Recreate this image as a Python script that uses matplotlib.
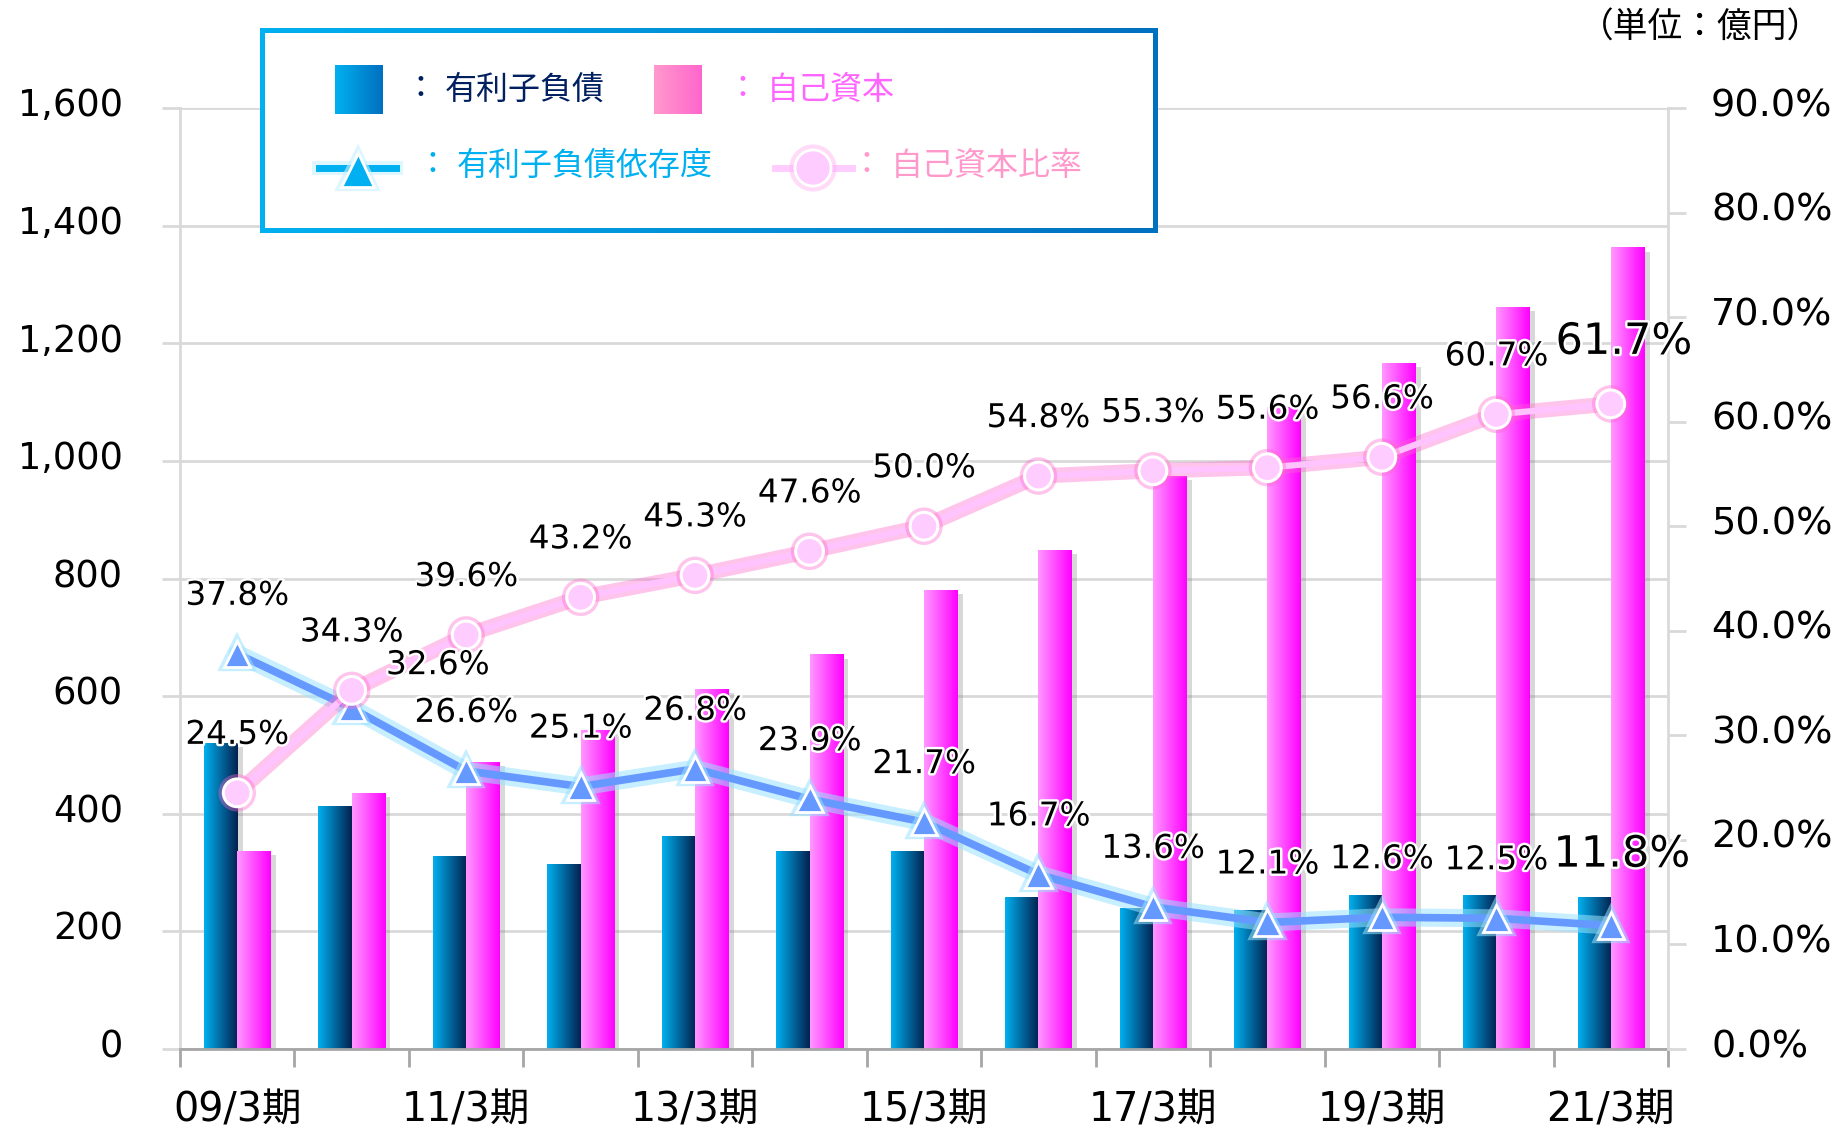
import numpy as np
import matplotlib
matplotlib.use('Agg')
import matplotlib.pyplot as plt
import matplotlib.patheffects as pe
import matplotlib.transforms as mtransforms
from matplotlib.colors import LinearSegmentedColormap
from matplotlib.patches import Rectangle

plt.rcParams['font.family'] = ['DejaVu Sans', 'Noto Sans CJK JP']

# data
periods = ['09/3期', '10/3期', '11/3期', '12/3期', '13/3期', '14/3期', '15/3期',
           '16/3期', '17/3期', '18/3期', '19/3期', '20/3期', '21/3期']
debt = [521, 413, 329, 315, 363, 337, 337, 258, 239, 237, 261, 261, 259]          # 有利子負債 (億円)
equity = [337, 435, 488, 542, 612, 671, 781, 848, 974, 1091, 1166, 1262, 1363]    # 自己資本 (億円)
debt_ratio = [37.8, 32.6, 26.6, 25.1, 26.8, 23.9, 21.7, 16.7, 13.6, 12.1, 12.6, 12.5, 11.8]    # 有利子負債依存度 (%)
equity_ratio = [24.5, 34.3, 39.6, 43.2, 45.3, 47.6, 50.0, 54.8, 55.3, 55.6, 56.6, 60.7, 61.7]  # 自己資本比率 (%)
left_ticks = [0, 200, 400, 600, 800, 1000, 1200, 1400, 1600]
right_ticks = [0, 10, 20, 30, 40, 50, 60, 70, 80, 90]

W, H = 1847, 1130
fig = plt.figure(figsize=(W / 100, H / 100), dpi=100)
ax = fig.add_axes([180 / W, 1 - 1049 / H, (1668 - 180) / W, (1049 - 108) / H])
ax2 = ax.twinx()

BLUE_L, BLUE_R = '#00B0F0', '#03214F'
PINK_L, PINK_R = '#FF99FF', '#FF00FF'


def gradient_fill(axis, patch, c_left, c_right):
    # paint a left-to-right gradient inside a bar patch
    cmap = LinearSegmentedColormap.from_list('g', [c_left, c_right])
    x, y = patch.get_x(), patch.get_y()
    w, h = patch.get_width(), patch.get_height()
    im = axis.imshow(np.linspace(0, 1, 256).reshape(1, -1), cmap=cmap,
                     extent=[x, x + w, y, y + h], aspect='auto', origin='lower',
                     zorder=patch.get_zorder() + 0.01, interpolation='bilinear')
    im.set_clip_path(patch)


x = np.arange(len(periods))
bw = 0.29
shadow = [pe.SimplePatchShadow(offset=(4, -3), shadow_rgbFace='#808080', alpha=0.3), pe.Normal()]
bars_d = ax.bar(x - bw / 2, debt, bw, color=BLUE_L, zorder=2, path_effects=shadow)
bars_e = ax.bar(x + bw / 2, equity, bw, color=PINK_L, zorder=2, path_effects=shadow)
for b in bars_d:
    gradient_fill(ax, b, BLUE_L, BLUE_R)
for b in bars_e:
    gradient_fill(ax, b, PINK_L, PINK_R)

ax.set_xlim(-0.5, len(periods) - 0.5)
ax.set_ylim(0, 1600)
ax.set_yticks(left_ticks, labels=[f'{v:,}' for v in left_ticks])
ax.set_axisbelow(True)
ax.yaxis.grid(True, color='#D9D9D9', linewidth=2)
ax.tick_params(axis='y', length=13, width=2, color='#D9D9D9', labelsize=26.5, pad=28)

ax.set_xticks(np.arange(-0.5, len(periods), 1), labels=[])
ax.set_xticks(x[::2], labels=periods[::2], minor=True)
ax.tick_params(axis='x', which='major', length=13, width=2, color='#A6A6A6')
ax.tick_params(axis='x', which='minor', length=0, labelsize=28.5, pad=30)

ax.spines['top'].set_visible(False)
ax.spines['left'].set_color('#D9D9D9')
ax.spines['left'].set_linewidth(2)
ax.spines['bottom'].set_color('#A6A6A6')
ax.spines['bottom'].set_linewidth(2)
ax.spines['right'].set_visible(False)

# ratio lines on the right axis
ax2.set_ylim(0, 90)
ax2.set_yticks(right_ticks, labels=[f'{v:.1f}%' for v in right_ticks])
ax2.tick_params(axis='y', length=13, width=2, color='#D9D9D9', labelsize=27.5, pad=18)
for s in ['top', 'left', 'bottom']:
    ax2.spines[s].set_visible(False)
ax2.spines['right'].set_color('#D9D9D9')
ax2.spines['right'].set_linewidth(2)

# the y tick labels sit a little above their gridlines in the original
lift = mtransforms.ScaledTranslation(0, 6 / 100, fig.dpi_scale_trans)
for lab in ax.get_yticklabels() + ax2.get_yticklabels():
    lab.set_transform(lab.get_transform() + lift)

# blue line: soft cyan glow on the line, small halo on the markers
ax2.plot(x, debt_ratio, color='#6699FF', lw=5.5, zorder=3, solid_capstyle='round',
         path_effects=[pe.Stroke(linewidth=13, foreground='#99E2FF', alpha=0.55), pe.Normal()])
ax2.plot(x, debt_ratio, linestyle='none', marker='^', ms=19, mfc='#6699FF', mec='white',
         mew=2, zorder=3.1,
         path_effects=[pe.Stroke(linewidth=6, foreground='#99E2FF', alpha=0.55), pe.Normal()])
# pink line: thin light line with pink glow
ax2.plot(x, equity_ratio, color='#FFC4FF', lw=4.5, zorder=4, solid_capstyle='round',
         path_effects=[pe.Stroke(linewidth=11, foreground='#FF66CC', alpha=0.38), pe.Normal()])
ax2.plot(x, equity_ratio, linestyle='none', marker='o', ms=20, mfc='#FFCCFF', mec='white',
         mew=2.2, zorder=4.1,
         path_effects=[pe.Stroke(linewidth=7, foreground='#FF66CC', alpha=0.38), pe.Normal()])

# data labels (offsets in pixels, baseline above the marker)
outline = [pe.withStroke(linewidth=3.5, foreground='white')]
debt_off = {1: (86, 34), 12: (11, 59)}
equity_off = {12: (13, 50)}
for i in range(len(periods)):
    big = i == len(periods) - 1
    fs = 31 if big else 23.5
    dx, dy = debt_off.get(i, (0, 49))
    ax2.annotate(f'{debt_ratio[i]:.1f}%', (x[i], debt_ratio[i]), xytext=(dx, dy),
                 textcoords='offset pixels', ha='center', va='baseline',
                 fontsize=fs, color='black', path_effects=outline, zorder=6)
    dx, dy = equity_off.get(i, (0, 49))
    ax2.annotate(f'{equity_ratio[i]:.1f}%', (x[i], equity_ratio[i]), xytext=(dx, dy),
                 textcoords='offset pixels', ha='center', va='baseline',
                 fontsize=fs, color='black', path_effects=outline, zorder=6)

# legend box
lx0, ly0, lw_, lh_ = 260, 28, 898, 205
lax = fig.add_axes([lx0 / W, 1 - (ly0 + lh_) / H, lw_ / W, lh_ / H])
lax.axis('off')
border = LinearSegmentedColormap.from_list('b', ['#00B0F0', '#0070C0'])
lax.imshow(np.linspace(0, 1, 256).reshape(1, -1), cmap=border,
           extent=[0, lw_, lh_, 0], aspect='auto', zorder=0)
lax.add_patch(Rectangle((5, 5), lw_ - 10, lh_ - 10, facecolor='white', edgecolor='none', zorder=1))


def legend_square(x0, c_left, c_right):
    r = Rectangle((x0, 37), 48, 49, facecolor='none', edgecolor='none', zorder=2)
    lax.add_patch(r)
    cmap = LinearSegmentedColormap.from_list('s', [c_left, c_right])
    im = lax.imshow(np.linspace(0, 1, 64).reshape(1, -1), cmap=cmap,
                    extent=[x0, x0 + 48, 86, 37], aspect='auto', zorder=2)
    im.set_clip_path(r)


legend_square(75, '#00B0F0', '#0070C0')
legend_square(394, '#FF99CC', '#FF66CC')
lax.set_xlim(0, lw_)
lax.set_ylim(lh_, 0)

lfs = 23
lax.text(160, 62, '：', color='#002060', fontsize=lfs, ha='center', va='center', zorder=3)
lax.text(185, 62, '有利子負債', color='#002060', fontsize=lfs, ha='left', va='center', zorder=3)
lax.text(482, 62, '：', color='#FF66FF', fontsize=lfs, ha='center', va='center', zorder=3)
lax.text(507, 62, '自己資本', color='#FF66FF', fontsize=lfs, ha='left', va='center', zorder=3)

lax.plot([59, 136], [140, 140], color='#00B0F0', lw=5, zorder=3,
         path_effects=[pe.Stroke(linewidth=10, foreground='#C8F0FF', alpha=0.6), pe.Normal()])
lax.plot([97.5], [142], linestyle='none', marker='^', ms=24, mfc='#00B0F0', mec='white',
         mew=2, zorder=4,
         path_effects=[pe.Stroke(linewidth=6, foreground='#C8F0FF', alpha=0.6), pe.Normal()])
lax.text(172, 138, '：', color='#00B0F0', fontsize=lfs, ha='center', va='center', zorder=3)
lax.text(197, 138, '有利子負債依存度', color='#00B0F0', fontsize=lfs, ha='left', va='center', zorder=3)

lax.plot([515, 592], [140, 140], color='#FFCCFF', lw=5, zorder=3)
lax.plot([553], [140], linestyle='none', marker='o', ms=26, mfc='#FFCCFF', mec='white',
         mew=2, zorder=4,
         path_effects=[pe.Stroke(linewidth=8, foreground='#FFB0F0', alpha=0.45), pe.Normal()])
lax.text(606, 138, '：', color='#FF99CC', fontsize=lfs, ha='center', va='center', zorder=3)
lax.text(631, 138, '自己資本比率', color='#FF99CC', fontsize=lfs, ha='left', va='center', zorder=3)

fig.text(1822 / W, 1 - 28 / H, '（単位：億円）', ha='right', va='center', fontsize=25,
         color='black')

fig.savefig('out.png', dpi=100)
